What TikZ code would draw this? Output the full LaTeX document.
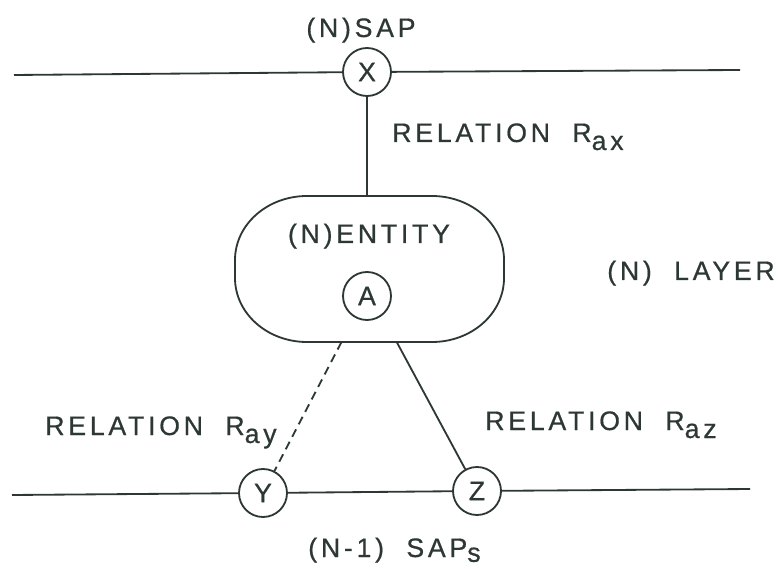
\documentclass[tikz,border=0pt]{standalone}
\usepackage{fontspec}
\setmainfont[LetterSpace=14,WordSpace=2,FakeBold=0.6]{Liberation Sans}
\definecolor{inkc}{RGB}{45,56,52}
\begin{document}
\begin{tikzpicture}[
    ink/.style={draw=inkc,line width=1.3pt},
    sap/.style={circle,ink,text=inkc,minimum size=1.2cm,inner sep=0pt,
                font=\fontsize{19}{21}\selectfont},
    lbl/.style={text=inkc,inner sep=0pt,font=\fontsize{19}{21}\selectfont}]
    \useasboundingbox (0,0) rectangle (19.55,14.2);
    % (N) and (N-1) service access points
    \node[sap] (X) at (9.175,12.4) {X};
    \node[sap] (Y) at (6.575,1.875) {Y};
    \node[sap] (Z) at (11.925,1.925) {Z};
    \coordinate (tl) at (0.35,12.325);
    \coordinate (tr) at (18.5,12.45);
    \coordinate (bl) at (0.3,1.825);
    \coordinate (br) at (18.75,1.975);
    \draw[ink] (tl) -- (X) -- (tr);
    \draw[ink] (bl) -- (Y) -- (Z) -- (br);
    % the entity, corners are elliptic
    \node[inner sep=0pt,outer sep=0pt,minimum width=6.725cm,
          minimum height=3.65cm] (E) at (9.2375,7.475) {};
    \draw[ink] ([xshift=1.8cm]E.north west) -- ([xshift=-1.8cm]E.north east)
        arc[start angle=90,end angle=0,x radius=1.8cm,y radius=1.6cm]
        -- ([yshift=1.6cm]E.south east)
        arc[start angle=0,end angle=-90,x radius=1.8cm,y radius=1.6cm]
        -- ([xshift=1.8cm]E.south west)
        arc[start angle=270,end angle=180,x radius=1.8cm,y radius=1.6cm]
        -- ([yshift=-1.6cm]E.north west)
        arc[start angle=180,end angle=90,x radius=1.8cm,y radius=1.6cm]
        -- cycle;
    \node[lbl,anchor=base] (ent) at (9.225,8.125) {(N)ENTITY};
    \node[sap] (A) at (9.175,6.8) {A};
    % relations
    \coordinate (ey) at ([xshift=-0.7cm]E.south);
    \coordinate (ez) at ([xshift=0.68cm]E.south);
    \draw[ink] (X) -- (X |- E.north);
    \draw[ink,dash pattern=on 6pt off 4pt] (ey) -- (Y);
    \draw[ink] (ez) -- (Z);
    % labels
    \node[lbl,anchor=base] (nsap) at (9.025,13.275) {(N)SAP};
    \node[lbl,anchor=base west] (rax) at (9.8,10.65)
        {RELATION R\raisebox{-0.2cm}{ax}};
    \node[lbl,anchor=base west] (layer) at (15.175,7.2) {(N) LAYER};
    \node[lbl,anchor=base west] (ray) at (1.125,3.325)
        {RELATION R\raisebox{-0.2cm}{ay}};
    \node[lbl,anchor=base west] (raz) at (12.125,3.45)
        {RELATION R\raisebox{-0.2cm}{az}};
    \node[lbl,anchor=base west] (nsaps) at (7.7,0.275)
        {(N-1) SAP\raisebox{-0.12cm}{s}};
\end{tikzpicture}
\end{document}
